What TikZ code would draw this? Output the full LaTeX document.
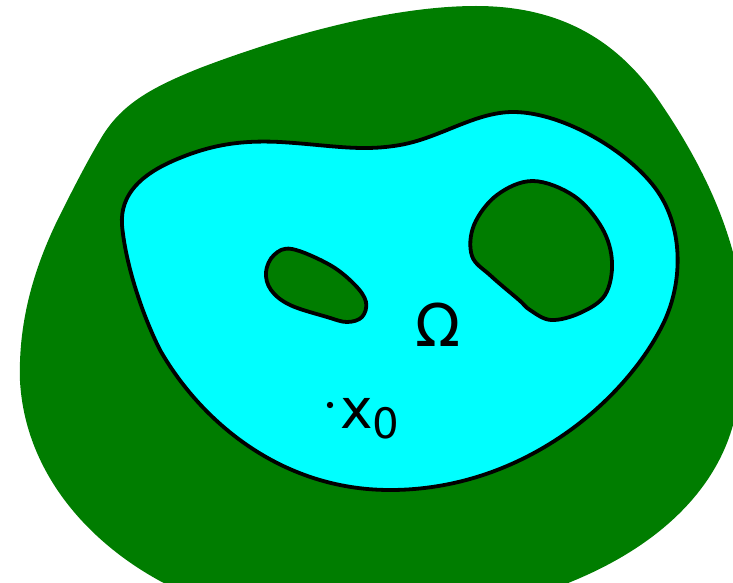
\documentclass[tikz,border=0pt]{standalone}
\usepackage{fontspec}
\setmainfont{DejaVu Sans}
\definecolor{blobgreen}{RGB}{0,125,0}
\definecolor{domaincyan}{RGB}{0,255,255}
\begin{document}
\begin{tikzpicture}[x=1pt,y=-1pt,
  outerregion/.style={fill=blobgreen},
  omegaregion/.style={fill=domaincyan,draw=black,line width=3.8pt,line join=round},
  holeregion/.style={fill=blobgreen,draw=black,line width=3.8pt,line join=round},
  lbl/.style={inner sep=0pt,outer sep=0pt,text=black}]
\useasboundingbox (0,0) rectangle (733,583);
\clip (0,0) rectangle (733,583);
% outer green region
\path[outerregion] (476,6) .. controls (560,6) and (615,40) .. (655,95)
  .. controls (690,145) and (720,200) .. (735,260)
  .. controls (748,310) and (748,370) .. (733,425)
  .. controls (715,490) and (660,545) .. (573,581)
  .. controls (500,612) and (420,625) .. (360,625)
  .. controls (280,625) and (210,608) .. (160,581)
  .. controls (85,540) and (25,470) .. (20,381)
  .. controls (18,320) and (35,265) .. (60,215)
  .. controls (75,185) and (88,160) .. (100,140)
  .. controls (120,105) and (150,88) .. (200,68)
  .. controls (300,30) and (400,6) .. (476,6) -- cycle;
% domain Omega
\path[omegaregion] (122,225) .. controls (120,195) and (140,175) .. (175,160)
  .. controls (210,145) and (240,140) .. (280,142)
  .. controls (330,145) and (360,152) .. (400,145)
  .. controls (440,138) and (475,112) .. (513,112)
  .. controls (565,112) and (635,155) .. (660,195)
  .. controls (685,235) and (682,290) .. (660,330)
  .. controls (620,405) and (520,490) .. (390,490)
  .. controls (280,490) and (200,420) .. (160,350)
  .. controls (140,310) and (125,260) .. (122,225) -- cycle;
% small hole
\path[holeregion] plot[smooth cycle,tension=0.6] coordinates {
  (292,249) (330,265) (355,285) (366,302) (362,317) (347,322) (327,317)
  (290,305) (271,290) (266,272) (274,255)};
% large hole
\path[holeregion] plot[smooth cycle,tension=0.6] coordinates {
  (533,181) (574,196) (602,228) (612,262) (605,295) (580,313) (551,320)
  (530,310) (519,300) (491,276) (472,256) (474,225) (497,195)};
% labels
\node[lbl,anchor=base] (omega) at (438.5,346) {\fontsize{59}{59}\selectfont Ω};
\fill (330,405) circle (3.2);
\node[lbl,anchor=base west] (x0) at (340,428)
  {\fontsize{55}{55}\selectfont x\raisebox{-10pt}{\fontsize{42}{42}\selectfont 0}};
\end{tikzpicture}
\end{document}
